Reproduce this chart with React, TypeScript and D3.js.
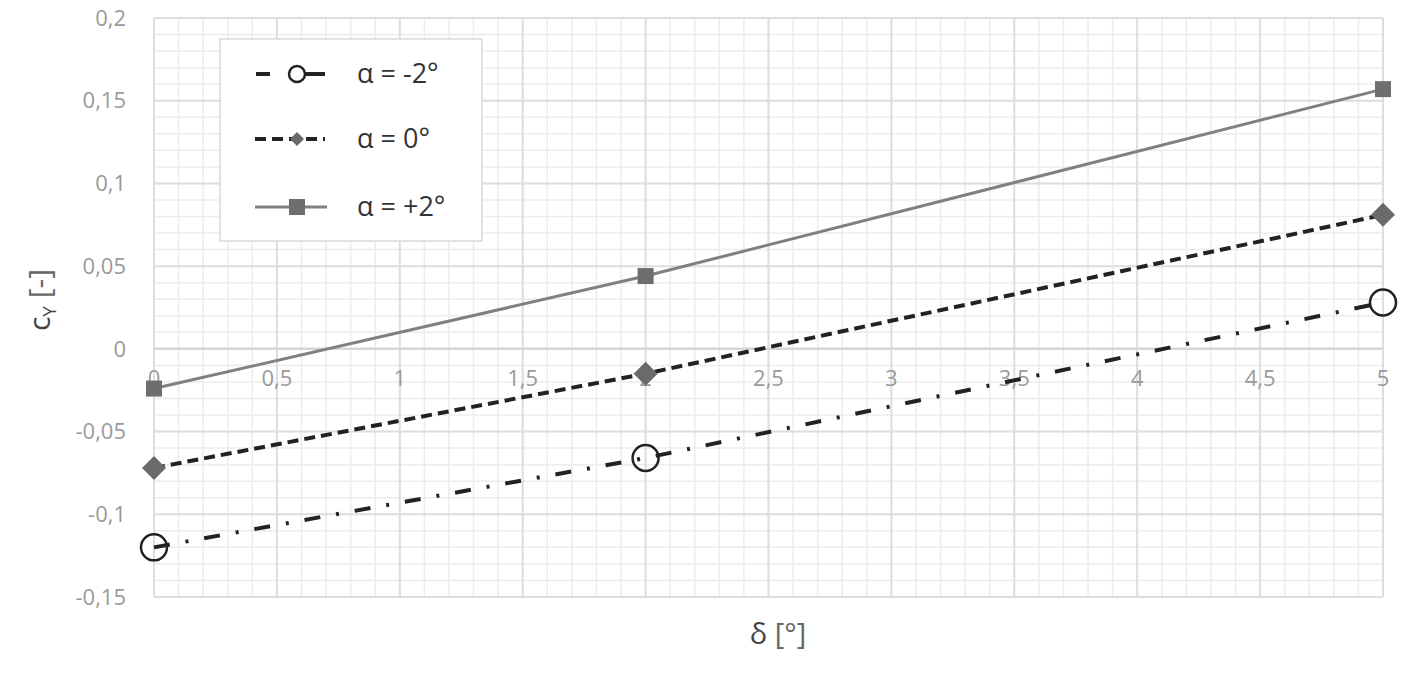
import { useEffect, useRef } from "react";
import * as d3 from "d3";

const deltas = [0, 2, 5];
const alphaM2 = [-0.12, -0.066, 0.028];
const alpha0 = [-0.072, -0.015, 0.081];
const alphaP2 = [-0.024, 0.044, 0.157];
const yTicks = [-0.15, -0.1, -0.05, 0, 0.05, 0.1, 0.15, 0.2];
const xTicks = [0, 0.5, 1, 1.5, 2, 2.5, 3, 3.5, 4, 4.5, 5];
const legendLabels = ["α = -2°", "α = 0°", "α = +2°"];

const W = 1408;
const H = 677;
const FONT = "'Open Sans', 'Liberation Sans', sans-serif";

export default function App() {
  const ref = useRef<SVGSVGElement>(null);

  useEffect(() => {
    if (!ref.current) return;
    const svg = d3.select(ref.current);
    svg.selectAll("*").remove();

    const left = 154, right = 1383, top = 18, bottom = 597;
    const x = d3.scaleLinear().domain([0, 5]).range([left, right]);
    const y = d3.scaleLinear().domain([-0.15, 0.2]).range([bottom, top]);
    const fmt = (v: number) => String(+v.toFixed(2)).replace(".", ",");

    svg.append("rect").attr("width", W).attr("height", H).attr("fill", "#fff");

    // minor grid
    const g = svg.append("g");
    d3.range(0, 5.0001, 0.1).forEach((v) => {
      g.append("line").attr("x1", x(v)).attr("x2", x(v)).attr("y1", top).attr("y2", bottom)
        .attr("stroke", "#ececec").attr("stroke-width", 1.5);
    });
    d3.range(-0.15, 0.2001, 0.01).forEach((v) => {
      g.append("line").attr("x1", left).attr("x2", right).attr("y1", y(v)).attr("y2", y(v))
        .attr("stroke", "#ececec").attr("stroke-width", 1.5);
    });
    // major grid
    xTicks.forEach((v) => {
      g.append("line").attr("x1", x(v)).attr("x2", x(v)).attr("y1", top).attr("y2", bottom)
        .attr("stroke", "#dedede").attr("stroke-width", 2);
    });
    yTicks.forEach((v) => {
      g.append("line").attr("x1", left).attr("x2", right).attr("y1", y(v)).attr("y2", y(v))
        .attr("stroke", v === 0 ? "#d6d6d6" : "#dedede").attr("stroke-width", v === 0 ? 2.5 : 2);
    });

    // tick labels
    yTicks.forEach((v) => {
      svg.append("text").attr("x", 126).attr("y", y(v)).attr("dy", "0.35em")
        .attr("text-anchor", "end").attr("font-family", FONT).attr("font-size", 22)
        .attr("fill", "#9a9a9a").text(fmt(v));
    });
    xTicks.forEach((v) => {
      svg.append("text").attr("x", x(v)).attr("y", y(0) + 37)
        .attr("text-anchor", "middle").attr("font-family", FONT).attr("font-size", 22)
        .attr("fill", "#9a9a9a").text(fmt(v));
    });

    // axis titles
    const xt = svg.append("text").attr("x", 778).attr("y", 644).attr("text-anchor", "middle")
      .attr("font-family", FONT).attr("font-size", 29).attr("fill", "#444");
    xt.append("tspan").text("δ ");
    xt.append("tspan").attr("fill", "#666").text("[°]");

    const yt = svg.append("text").attr("transform", "translate(50,300) rotate(-90)")
      .attr("text-anchor", "middle").attr("font-family", FONT).attr("font-size", 30).attr("fill", "#444");
    yt.append("tspan").text("c");
    yt.append("tspan").attr("font-size", 19).attr("dy", 6).text("Y");
    yt.append("tspan").attr("dy", -6).attr("fill", "#666").text(" [-]");

    const line = (vals: number[]) =>
      d3.line<number>().x((_, i) => x(deltas[i])).y((d) => y(d))(vals) as string;

    // series lines
    svg.append("path").attr("d", line(alphaP2)).attr("fill", "none")
      .attr("stroke", "#808080").attr("stroke-width", 3);
    svg.append("path").attr("d", line(alpha0)).attr("fill", "none")
      .attr("stroke", "#222").attr("stroke-width", 4).attr("stroke-dasharray", "11 6");
    svg.append("path").attr("d", line(alphaM2)).attr("fill", "none")
      .attr("stroke", "#222").attr("stroke-width", 4).attr("stroke-dasharray", "16 16 3 16");

    type G = d3.Selection<SVGGElement, unknown, null, undefined>;
    const square = (gg: G, cx: number, cy: number) =>
      gg.append("rect").attr("x", cx - 8).attr("y", cy - 8).attr("width", 16).attr("height", 16)
        .attr("fill", "#6e6e6e");
    const diamond = (gg: G, cx: number, cy: number, r: number) =>
      gg.append("path").attr("d", `M${cx},${cy - r}L${cx + r},${cy}L${cx},${cy + r}L${cx - r},${cy}Z`)
        .attr("fill", "#6a6a6a");
    const circle = (gg: G, cx: number, cy: number, r: number, fill: string) =>
      gg.append("circle").attr("cx", cx).attr("cy", cy).attr("r", r)
        .attr("fill", fill).attr("stroke", "#222").attr("stroke-width", 2.5);

    const mk = svg.append("g");
    alphaP2.forEach((v, i) => square(mk, x(deltas[i]), y(v)));
    alpha0.forEach((v, i) => diamond(mk, x(deltas[i]), y(v), 12));
    alphaM2.forEach((v, i) => circle(mk, x(deltas[i]), y(v), 13, "none"));

    // legend
    const lg = svg.append("g");
    lg.append("rect").attr("x", 220).attr("y", 39).attr("width", 262).attr("height", 202)
      .attr("fill", "#fff").attr("stroke", "#d9d9d9").attr("stroke-width", 1.5);
    const rows = [74, 139, 207];
    lg.append("line").attr("x1", 256).attr("x2", 325).attr("y1", rows[0]).attr("y2", rows[0])
      .attr("stroke", "#222").attr("stroke-width", 4).attr("stroke-dasharray", "14 25 30");
    circle(lg, 297, rows[0], 8, "#fff");
    lg.append("line").attr("x1", 255).attr("x2", 325).attr("y1", rows[1]).attr("y2", rows[1])
      .attr("stroke", "#222").attr("stroke-width", 4).attr("stroke-dasharray", "11 6");
    diamond(lg, 297, rows[1], 7);
    lg.append("line").attr("x1", 255).attr("x2", 327).attr("y1", rows[2]).attr("y2", rows[2])
      .attr("stroke", "#808080").attr("stroke-width", 3);
    square(lg, 297, rows[2]);
    legendLabels.forEach((t, i) => {
      lg.append("text").attr("x", 357).attr("y", rows[i]).attr("dy", "0.35em")
        .attr("font-family", FONT).attr("font-size", 27).attr("fill", "#333").text(t);
    });
  }, []);

  return (
    <svg ref={ref} width={W} height={H} style={{ position: "absolute", left: 0, top: 0 }} />
  );
}
